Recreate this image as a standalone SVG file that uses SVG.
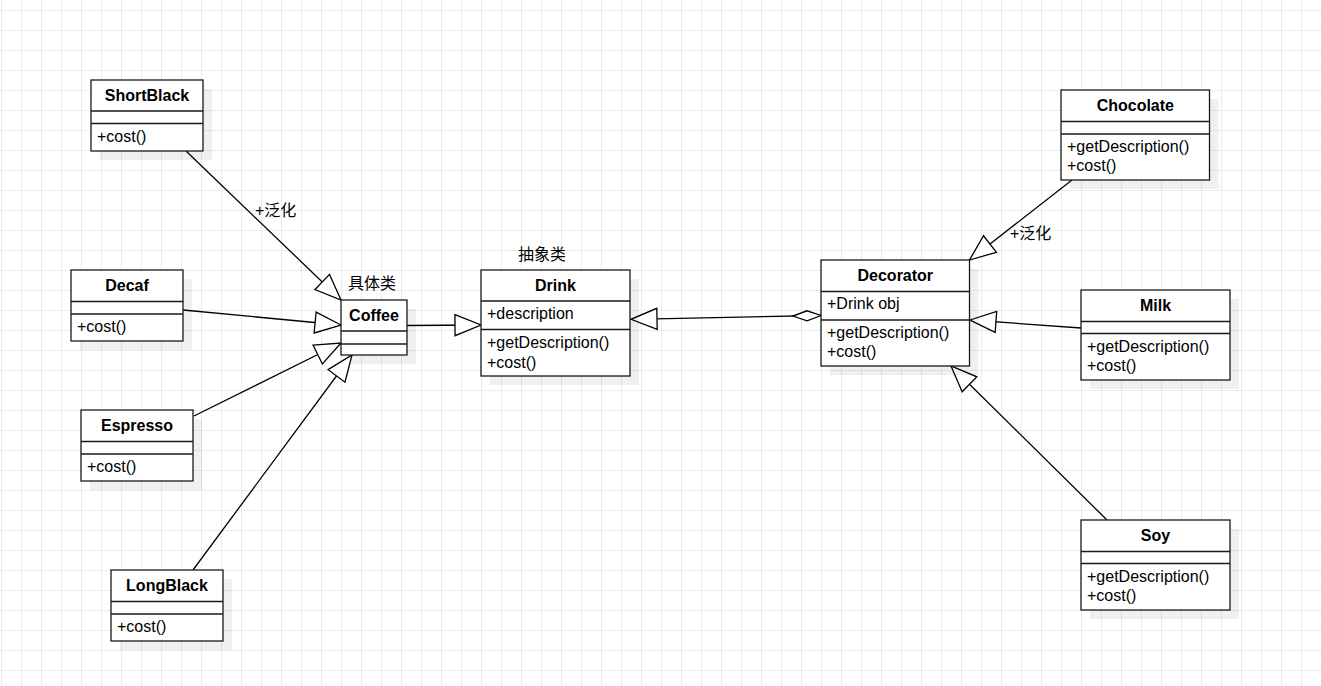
<svg xmlns="http://www.w3.org/2000/svg" width="1321" height="686" viewBox="0 0 1321 686">
<style>
.box{fill:#fff;stroke:#1a1a1a;stroke-width:1.3}
.sh{fill:#000;fill-opacity:0.06}
.sep{stroke:#1a1a1a;stroke-width:1.3}
.t{font-family:"Liberation Sans",Arial,sans-serif;font-size:16px;font-weight:bold;fill:#000;text-anchor:middle}
.m{font-family:"Liberation Sans",Arial,sans-serif;font-size:16px;fill:#000}
.lbl{font-family:"Liberation Sans","Noto Sans CJK SC",sans-serif;font-size:16px;fill:#000}
.edge{fill:none;stroke:#000;stroke-width:1.3}
</style>
<defs>
<pattern id="grid" width="20" height="20" patternUnits="userSpaceOnUse" x="1" y="10">
<path d="M0.5 0 V20 M0 0.5 H20" fill="none" stroke="#ebebeb" stroke-width="1"/>
</pattern>
<marker id="gen" viewBox="0 0 30 24" markerWidth="30" markerHeight="24" refX="27" refY="12" orient="auto" markerUnits="userSpaceOnUse" overflow="visible">
<path d="M1 1.5 L27 12 L1 22.5 Z" fill="#fff" stroke="#000" stroke-width="1.3"/>
</marker>
<marker id="agg" viewBox="-1 -1 30 12" markerWidth="30" markerHeight="12" refX="0" refY="5" orient="auto" markerUnits="userSpaceOnUse" overflow="visible">
<path d="M0 5 L14 0 L28 5 L14 10 Z" fill="#fff" stroke="#000" stroke-width="1.3"/>
</marker>
</defs>
<rect width="1321" height="686" fill="#fff"/>
<rect width="1321" height="686" fill="url(#grid)"/>

<g id="connectors">
<path class="edge" d="M186 151 L341 300" marker-end="url(#gen)"/>
<path class="edge" d="M183 310 L341 325" marker-end="url(#gen)"/>
<path class="edge" d="M194 416 L341 343" marker-end="url(#gen)"/>
<path class="edge" d="M193 570 L352 355" marker-end="url(#gen)"/>
<path class="edge" d="M407 325.5 L481 325" marker-end="url(#gen)"/>
<path class="edge" d="M821 315.5 L631 319.3" marker-start="url(#agg)" marker-end="url(#gen)"/>
<path class="edge" d="M1072 180 L969.5 260" marker-end="url(#gen)"/>
<path class="edge" d="M1081 328 L970 320" marker-end="url(#gen)"/>
<path class="edge" d="M1107 520 L951 366" marker-end="url(#gen)"/>
<text class="lbl" x="255" y="216">+泛化</text>
<text class="lbl" x="1010" y="239">+泛化</text>
</g>

<g id="ShortBlack">
<rect class="sh" x="100" y="89" width="112" height="71"/>
<rect class="box" x="91" y="80" width="112" height="71"/>
<line class="sep" x1="91" y1="111" x2="203" y2="111"/>
<line class="sep" x1="91" y1="123.5" x2="203" y2="123.5"/>
<text class="t" x="147" y="101">ShortBlack</text>
<text class="m" x="97" y="142">+cost()</text>
</g>

<g id="Decaf">
<rect class="sh" x="80" y="279" width="112" height="71"/>
<rect class="box" x="71" y="270" width="112" height="71"/>
<line class="sep" x1="71" y1="301.5" x2="183" y2="301.5"/>
<line class="sep" x1="71" y1="314" x2="183" y2="314"/>
<text class="t" x="127" y="291">Decaf</text>
<text class="m" x="77" y="332">+cost()</text>
</g>

<g id="Espresso">
<rect class="sh" x="90" y="419" width="112" height="71"/>
<rect class="box" x="81" y="410" width="112" height="71"/>
<line class="sep" x1="81" y1="441.5" x2="193" y2="441.5"/>
<line class="sep" x1="81" y1="454" x2="193" y2="454"/>
<text class="t" x="137" y="431">Espresso</text>
<text class="m" x="87" y="472">+cost()</text>
</g>

<g id="LongBlack">
<rect class="sh" x="120" y="579" width="112" height="71"/>
<rect class="box" x="111" y="570" width="112" height="71"/>
<line class="sep" x1="111" y1="601.5" x2="223" y2="601.5"/>
<line class="sep" x1="111" y1="614" x2="223" y2="614"/>
<text class="t" x="167" y="591">LongBlack</text>
<text class="m" x="117" y="632">+cost()</text>
</g>

<g id="Coffee">
<rect class="sh" x="350" y="309" width="66" height="55"/>
<rect class="box" x="341" y="300" width="66" height="55"/>
<line class="sep" x1="341" y1="331" x2="407" y2="331"/>
<line class="sep" x1="341" y1="344" x2="407" y2="344"/>
<text class="t" x="374" y="321">Coffee</text>
<text class="lbl" x="348" y="289">具体类</text>
</g>

<g id="Drink">
<rect class="sh" x="490" y="279" width="149" height="106"/>
<rect class="box" x="481" y="270" width="149" height="106"/>
<line class="sep" x1="481" y1="301" x2="630" y2="301"/>
<line class="sep" x1="481" y1="329.5" x2="630" y2="329.5"/>
<text class="t" x="555.5" y="291">Drink</text>
<text class="m" x="487" y="318.5">+description</text>
<text class="m" x="487" y="348">+getDescription()</text>
<text class="m" x="487" y="367.5">+cost()</text>
<text class="lbl" x="518" y="260">抽象类</text>
</g>

<g id="Decorator">
<rect class="sh" x="830" y="269" width="148.5" height="106"/>
<rect class="box" x="821" y="260" width="148.5" height="106"/>
<line class="sep" x1="821" y1="291.5" x2="969.5" y2="291.5"/>
<line class="sep" x1="821" y1="320" x2="969.5" y2="320"/>
<text class="t" x="895.3" y="281">Decorator</text>
<text class="m" x="827" y="308.5">+Drink obj</text>
<text class="m" x="827" y="338">+getDescription()</text>
<text class="m" x="827" y="357">+cost()</text>
</g>

<g id="Chocolate">
<rect class="sh" x="1070" y="99" width="148.5" height="90"/>
<rect class="box" x="1061" y="90" width="148.5" height="90"/>
<line class="sep" x1="1061" y1="121.5" x2="1209.5" y2="121.5"/>
<line class="sep" x1="1061" y1="134" x2="1209.5" y2="134"/>
<text class="t" x="1135.3" y="111">Chocolate</text>
<text class="m" x="1067" y="152">+getDescription()</text>
<text class="m" x="1067" y="171">+cost()</text>
</g>

<g id="Milk">
<rect class="sh" x="1090" y="299" width="149" height="90"/>
<rect class="box" x="1081" y="290" width="149" height="90"/>
<line class="sep" x1="1081" y1="321.5" x2="1230" y2="321.5"/>
<line class="sep" x1="1081" y1="333.5" x2="1230" y2="333.5"/>
<text class="t" x="1155.5" y="311">Milk</text>
<text class="m" x="1087" y="352">+getDescription()</text>
<text class="m" x="1087" y="371">+cost()</text>
</g>

<g id="Soy">
<rect class="sh" x="1090" y="529" width="149" height="90"/>
<rect class="box" x="1081" y="520" width="149" height="90"/>
<line class="sep" x1="1081" y1="551.5" x2="1230" y2="551.5"/>
<line class="sep" x1="1081" y1="563.5" x2="1230" y2="563.5"/>
<text class="t" x="1155.5" y="541">Soy</text>
<text class="m" x="1087" y="582">+getDescription()</text>
<text class="m" x="1087" y="601">+cost()</text>
</g>
</svg>
